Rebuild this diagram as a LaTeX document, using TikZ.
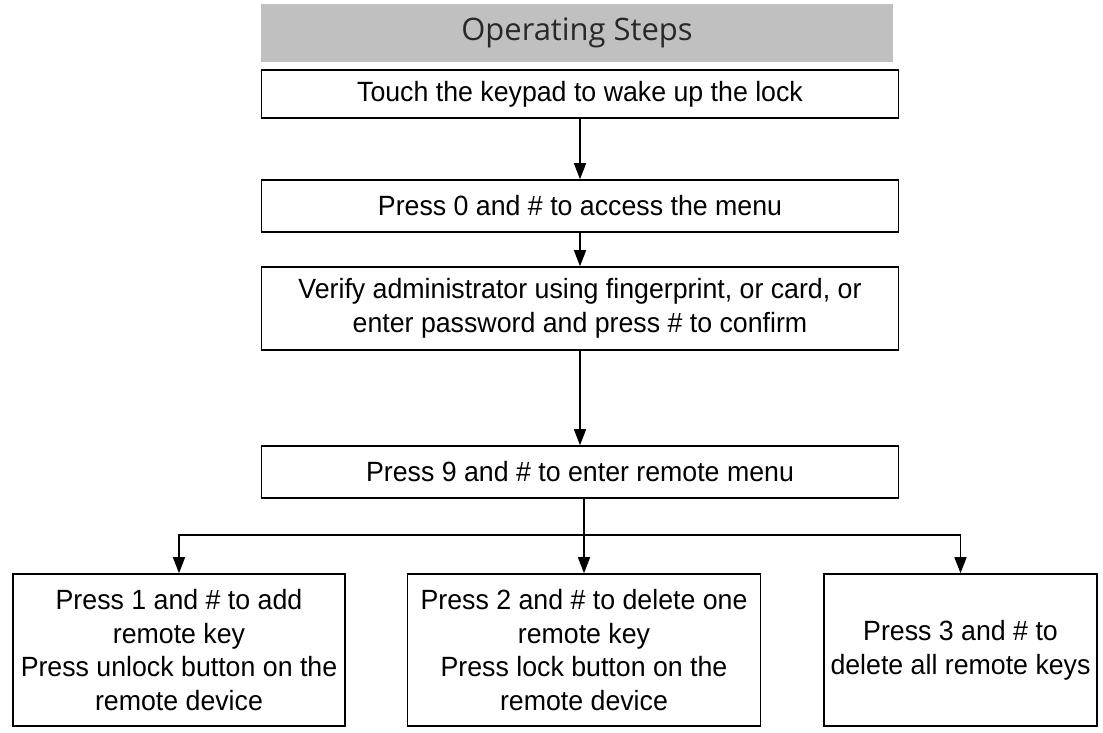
\documentclass[tikz,border=0pt]{standalone}
\usepackage{fontspec}
\setmainfont[FakeStretch=0.96]{Liberation Sans}
\newfontfamily\headfont{Open Sans}
\usetikzlibrary{arrows.meta,positioning}
\definecolor{headGray}{RGB}{192,192,192}
\definecolor{headText}{RGB}{40,40,40}

\begin{document}
\begin{tikzpicture}[x=0.025cm, y=-0.025cm, >={Triangle[length=4mm,width=3mm]},
  stepbox/.style={draw, line width=1.1pt, fill=white, align=center, inner sep=2pt,
     font=\fontsize{19.8}{24}\selectfont},
  flow/.style={->, line width=1.1pt}]
  \useasboundingbox (0,0) rectangle (1103,732);
  \node[fill=headGray, minimum width=15.8cm, minimum height=1.45cm,
        font=\headfont\fontsize{22}{26}\selectfont, text=headText] (head) at (577,33) {Operating Steps};
  \node[stepbox, minimum width=15.925cm, minimum height=1.2cm] (wake) at (580,94) {Touch the keypad to wake up the lock};
  \node[stepbox, minimum width=15.925cm, minimum height=1.3cm] (menu) at (580,206) {Press 0 and \# to access the menu};
  \node[stepbox, minimum width=15.925cm, minimum height=2.075cm] (admin) at (580,308.5)
       {Verify administrator using fingerprint, or card, or\\enter password and press \# to confirm};
  \node[stepbox, minimum width=15.925cm, minimum height=1.3cm] (remote) at (580,472) {Press 9 and \# to enter remote menu};
  \node[stepbox, minimum width=8.3cm, minimum height=3.8cm] (add) at (179,650)
       {Press 1 and \# to add\\remote key\\Press unlock button on the\\remote device};
  \node[stepbox, minimum width=8.825cm, minimum height=3.8cm] (delone) at (584,650)
       {Press 2 and \# to delete one\\remote key\\Press lock button on the\\remote device};
  \node[stepbox, minimum width=6.825cm, minimum height=3.8cm] (delall) at (960.5,650)
       {Press 3 and \# to\\delete all remote keys};
  \coordinate (split) at (584,535);
  \draw[flow] (wake) -- (menu);
  \draw[flow] (menu) -- (admin);
  \draw[flow] (admin) -- (remote);
  \draw[line width=1.1pt] (remote.south -| split) -- (split);
  \draw[flow] (split) -| (add);
  \draw[flow] (split) -- (delone);
  \draw[flow] (split) -| (delall);
\end{tikzpicture}
\end{document}
